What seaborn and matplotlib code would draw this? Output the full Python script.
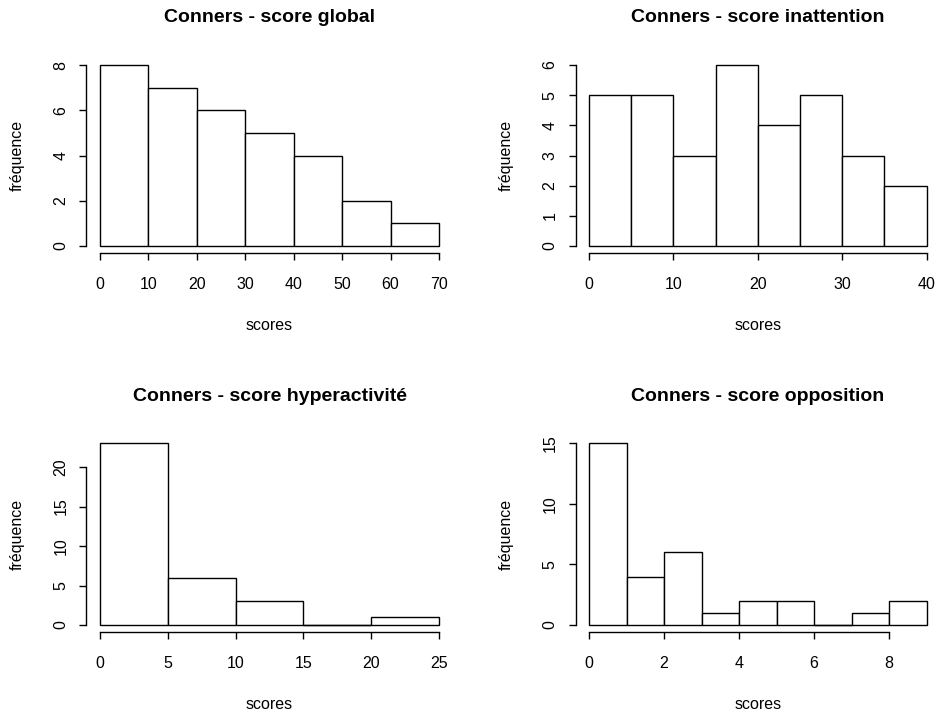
import pandas as pd
import matplotlib
matplotlib.use("Agg")
import matplotlib.pyplot as plt
import seaborn as sns

# bin edges and counts
global_edges = [0, 10, 20, 30, 40, 50, 60, 70]
global_counts = [8, 7, 6, 5, 4, 2, 1]

inatt_edges = [0, 5, 10, 15, 20, 25, 30, 35, 40]
inatt_counts = [5, 5, 3, 6, 4, 5, 3, 2]

hyper_edges = [0, 5, 10, 15, 20, 25]
hyper_counts = [23, 6, 3, 0, 1]

oppos_edges = [0, 1, 2, 3, 4, 5, 6, 7, 8, 9]
oppos_counts = [15, 4, 6, 1, 2, 2, 0, 1, 2]

titles = ['Conners - score global', 'Conners - score inattention',
          'Conners - score hyperactivité', 'Conners - score opposition']
x_ticks = [[0, 10, 20, 30, 40, 50, 60, 70], [0, 10, 20, 30, 40],
           [0, 5, 10, 15, 20, 25], [0, 2, 4, 6, 8]]
y_ticks = [[0, 2, 4, 6, 8], [0, 1, 2, 3, 4, 5, 6],
           [0, 5, 10, 15, 20], [0, 5, 10, 15]]

sns.set_theme(style="white")
plt.rcParams['font.family'] = ['Liberation Sans', 'DejaVu Sans']
plt.rcParams['text.color'] = 'black'
plt.rcParams['axes.labelcolor'] = 'black'

W, H = 938, 716
fig = plt.figure(figsize=(W / 100, H / 100), dpi=100)

# plot regions in pixels (left, right, top, bottom)
regions = [(86.4, 452.6, 57.8, 253.2), (575.5, 940.0, 57.8, 253.2),
           (86.4, 452.6, 436.1, 632.3), (575.5, 940.0, 436.1, 632.3)]

datasets = [(global_edges, global_counts), (inatt_edges, inatt_counts),
            (hyper_edges, hyper_counts), (oppos_edges, oppos_counts)]

for i, ((edges, counts), (l, r, t, b)) in enumerate(zip(datasets, regions)):
    ax = fig.add_axes([l / W, 1 - b / H, (r - l) / W, (b - t) / H])
    mids = [(a + c) / 2 for a, c in zip(edges[:-1], edges[1:])]
    df = pd.DataFrame({'score': mids, 'n': counts})
    sns.histplot(data=df, x='score', weights='n', bins=list(edges), ax=ax,
                 color='white', edgecolor='black', linewidth=1.0, alpha=1)
    # empty bins still show as a flat line in R
    for j, n in enumerate(counts):
        if n == 0:
            ax.hlines(0, edges[j], edges[j + 1], color='black', linewidth=1.0)

    # R-like 4% extension of the ranges
    xr = edges[-1] - edges[0]
    ax.set_xlim(edges[0] - 0.04 * xr, edges[-1] + 0.04 * xr)
    ymax = max(counts)
    ax.set_ylim(-0.04 * ymax, ymax * 1.04)

    ax.set_xticks(x_ticks[i])
    ax.set_yticks(y_ticks[i])
    for s in ['top', 'right']:
        ax.spines[s].set_visible(False)
    for s in ['left', 'bottom']:
        ax.spines[s].set_color('black')
        ax.spines[s].set_linewidth(1.0)
    ax.spines['bottom'].set_bounds(x_ticks[i][0], x_ticks[i][-1])
    ax.spines['left'].set_bounds(y_ticks[i][0], y_ticks[i][-1])

    ax.tick_params(axis='both', direction='out', length=5, width=1.0,
                   color='black', labelsize=11.5, labelcolor='black',
                   bottom=True, left=True)
    ax.tick_params(axis='x', pad=12)
    ax.tick_params(axis='y', pad=8)
    for lab in ax.get_yticklabels():
        lab.set_rotation(90)
        lab.set_va('center')

    hpx = b - t
    wpx = r - l
    ax.set_xlabel('scores', fontsize=11.5, va='center')
    ax.xaxis.set_label_coords(0.5, -72 / hpx)
    ax.set_ylabel('fréquence', fontsize=11.5, va='center')
    ax.yaxis.set_label_coords(-69 / wpx, 0.5)
    ax.text(0.5, 1 + 40 / hpx, titles[i], transform=ax.transAxes,
            fontsize=14, fontweight='bold', ha='center', va='center')

fig.savefig('out.png', dpi=100)
